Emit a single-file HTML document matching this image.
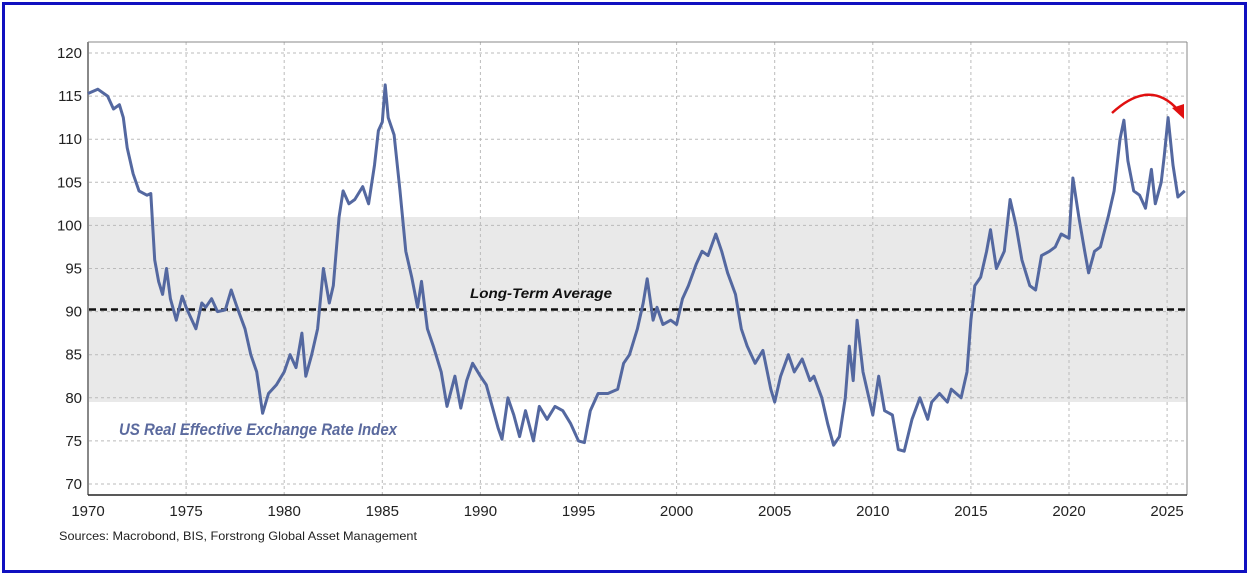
<!DOCTYPE html>
<html><head><meta charset="utf-8"><style>
html,body{margin:0;padding:0;background:#fff}
svg text{font-family:"Liberation Sans",Calibri,sans-serif}
</style></head><body>
<svg id="s" width="1252" height="579" xmlns="http://www.w3.org/2000/svg">
<rect x="3.5" y="3.5" width="1242" height="568" fill="#fff" stroke="#1010c0" stroke-width="3"/>
<rect x="89" y="217" width="1098" height="185" fill="#e9e9e9"/>
<g id="grid" stroke="#bbb" stroke-dasharray="3,3" stroke-width="1"></g>
<line x1="88" y1="42" x2="88" y2="495" stroke="#888" stroke-width="2"/>
<line x1="1187" y1="42" x2="1187" y2="495" stroke="#888" stroke-width="1"/>
<line x1="88" y1="42" x2="1187" y2="42" stroke="#888" stroke-width="1"/>
<line x1="88" y1="495" x2="1187" y2="495" stroke="#222" stroke-width="1.5"/>
<line x1="89" y1="309.5" x2="1187" y2="309.5" stroke="#111" stroke-width="2.5" stroke-dasharray="7,4"/>
<g id="lab" font-size="15" fill="#222"></g>
<path id="p" fill="none" stroke="#5468a0" stroke-width="3" stroke-linejoin="round"/>
<text x="470" y="298" font-size="14" font-weight="bold" font-style="italic" fill="#111" textLength="142" lengthAdjust="spacingAndGlyphs">Long-Term Average</text>
<text x="119" y="435" font-size="16.5" font-weight="bold" font-style="italic" fill="#5b6a9e" textLength="278" lengthAdjust="spacingAndGlyphs">US Real Effective Exchange Rate Index</text>
<text x="59" y="540" font-size="12" fill="#222" textLength="358" lengthAdjust="spacingAndGlyphs">Sources: Macrobond, BIS, Forstrong Global Asset Management</text>
<path d="M1112,113 Q1150,78 1178,110" fill="none" stroke="#e01010" stroke-width="2.5"/>
<polygon points="1172,108 1184,119 1184,104" fill="#e01010"/>
</svg>
<script>
var X=function(t){return 88+(t-1970)*19.62},Y=function(v){return 53+(120-v)*8.62};
var g=document.getElementById('grid'),l=document.getElementById('lab'),h="";
var gl="",ll="";
for(var v=70;v<=120;v+=5){gl+='<line x1="89" x2="1187" y1="'+Y(v)+'" y2="'+Y(v)+'"/>';ll+='<text x="82" y="'+(Y(v)+5)+'" text-anchor="end">'+v+'</text>';}
for(var t=1975;t<=2025;t+=5){gl+='<line y1="42" y2="495" x1="'+X(t)+'" x2="'+X(t)+'"/>';}
for(var t=1970;t<=2025;t+=5){ll+='<text x="'+X(t)+'" y="516" text-anchor="middle">'+t+'</text>';}
g.innerHTML=gl;l.innerHTML=ll;
var d=[1970,115.3,1970.5,115.8,1971,115,1971.3,113.5,1971.6,114,1971.8,112.5,1972,109,1972.3,106,1972.6,104,1973,103.5,1973.2,103.7,1973.4,96,1973.6,93.5,1973.8,92,1974,95,1974.2,91.5,1974.5,89,1974.8,91.8,1975,90.5,1975.3,89,1975.5,88,1975.8,91,1976,90.5,1976.3,91.5,1976.6,90,1977,90.2,1977.3,92.5,1977.6,90.5,1978,88,1978.3,85,1978.6,83,1978.9,78.2,1979.2,80.5,1979.6,81.5,1980,83,1980.3,85,1980.6,83.5,1980.9,87.5,1981.1,82.5,1981.4,85,1981.7,88,1982,95,1982.3,91,1982.5,93,1982.8,101,1983,104,1983.3,102.5,1983.6,103,1984,104.5,1984.3,102.5,1984.6,107,1984.8,111,1985,112,1985.15,116.3,1985.3,112.5,1985.6,110.5,1985.9,104,1986.2,97,1986.5,94,1986.8,90.5,1987,93.5,1987.3,88,1987.6,86,1988,83,1988.3,79,1988.7,82.5,1989,78.8,1989.3,82,1989.6,84,1990,82.5,1990.3,81.5,1990.6,79,1990.9,76.5,1991.1,75.2,1991.4,80,1991.7,78,1992,75.5,1992.3,78.5,1992.7,75,1993,79,1993.4,77.5,1993.8,79,1994.2,78.5,1994.6,77,1995,75,1995.3,74.8,1995.6,78.5,1996,80.5,1996.5,80.5,1997,81,1997.3,84,1997.6,85,1998,88,1998.3,91,1998.5,93.8,1998.8,89,1999,90.5,1999.3,88.5,1999.7,89,2000,88.5,2000.3,91.5,2000.6,93,2001,95.5,2001.3,97,2001.6,96.5,2002,99,2002.3,97,2002.6,94.5,2003,92,2003.3,88,2003.6,86,2004,84,2004.4,85.5,2004.8,81,2005,79.5,2005.3,82.5,2005.7,85,2006,83,2006.4,84.5,2006.8,82,2007,82.5,2007.4,80,2007.7,77,2008,74.5,2008.3,75.5,2008.6,80,2008.8,86,2009,82,2009.2,89,2009.5,83,2009.8,80,2010,78,2010.3,82.5,2010.6,78.5,2011,78,2011.3,74,2011.6,73.8,2012,77.5,2012.4,80,2012.8,77.5,2013,79.5,2013.4,80.5,2013.8,79.5,2014,81,2014.5,80,2014.8,83,2015,89,2015.2,93,2015.5,94,2015.8,97,2016,99.5,2016.3,95,2016.7,97,2017,103,2017.3,100,2017.6,96,2018,93,2018.3,92.5,2018.6,96.5,2019,97,2019.3,97.5,2019.6,99,2020,98.5,2020.2,105.5,2020.5,101,2020.8,97,2021,94.5,2021.3,97,2021.6,97.5,2022,101,2022.3,104,2022.6,110,2022.8,112.2,2023,107.5,2023.3,104,2023.6,103.5,2023.9,102,2024.2,106.5,2024.4,102.5,2024.7,105,2024.85,108,2025.05,112.5,2025.3,107,2025.55,103.3,2025.9,104];
for(var i=0;i<d.length;i+=2){h+=(i?"L":"M")+X(d[i]).toFixed(1)+","+Y(d[i+1]).toFixed(1);}
document.getElementById('p').setAttribute('d',h);
</script>
</body></html>
